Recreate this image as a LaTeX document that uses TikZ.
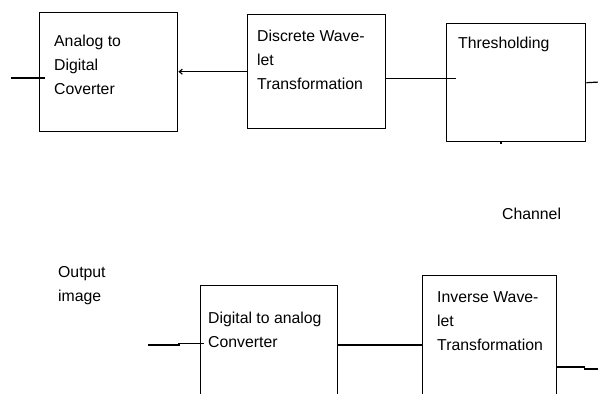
\documentclass[tikz,border=0pt]{standalone}
\usepackage{fontspec}
\setmainfont{Liberation Sans}
\usetikzlibrary{arrows.meta, positioning}

\begin{document}
\begin{tikzpicture}[
    x=1pt, y=-1pt,
    blk/.style={draw, line width=1.4pt, anchor=north west, inner sep=0pt},
    txt/.style={align=left, inner sep=0pt, font=\fontsize{15.8}{24}\selectfont},
    lbl/.style={txt, anchor=north west},
    wire/.style={line width=1.2pt},
    arr/.style={wire, -{Straight Barb[length=3pt, width=5pt]}},
]
\useasboundingbox (0,0) rectangle (598,394);
\clip (0,0) rectangle (598,394);

% upper chain
\node[blk, minimum width=138pt, minimum height=119pt,
  label={[lbl, xshift=15pt, yshift=-23pt]north west:{Analog to\\Digital\\Coverter}}] (adc) at (39,12) {};
\node[blk, minimum width=138pt, minimum height=114pt,
  label={[lbl, xshift=10pt, yshift=-16pt]north west:{Discrete Wave-\\let\\Transformation}}] (dwt) at (247,14) {};
\node[blk, minimum width=139pt, minimum height=118pt,
  label={[lbl, xshift=12pt, yshift=-14pt]north west:{Thresholding}}] (thr) at (446,23) {};

% lower chain
\node[blk, minimum width=137pt, minimum height=150pt,
  label={[lbl, xshift=8pt, yshift=-27pt]north west:{Digital to analog\\Converter}}] (dac) at (200,285) {};
\node[blk, minimum width=134pt, minimum height=150pt,
  label={[lbl, xshift=15pt, yshift=-16pt]north west:{Inverse Wave-\\let\\Transformation}}] (idwt) at (422,275) {};

\node[lbl] (chan) at (502,208) {Channel};
\node[lbl] (outimg) at (58,266) {Output\\image};

% connectors
\coordinate (src) at (11,78);
\draw[wire] (src) -- (adc.west |- src) -- ++(6,0);
\draw[arr] (dwt.west) -- (adc.east |- dwt.west);
\coordinate (dwtout) at ([yshift=-7pt]dwt.east);
\draw[wire] (dwtout) -- (dwtout -| thr.west) -- ++(10,0);
\coordinate (tx) at (600,82);
\draw[wire] (thr.east) -- (tx);
\coordinate (tk) at (501,144);
\draw[wire] (thr.south -| tk) -- (tk);

\coordinate (sink) at (148,345);
\coordinate (kink) at (179,343.5);
\draw[wire] (sink) -- (sink -| kink) -- (kink) -- (kink -| dac.west) -- ++(4,0);
\coordinate (dacout) at ([yshift=-60pt]dac.north east);
\draw[wire] (dacout) -- (dacout -| idwt.west);
\coordinate (iwout) at ([yshift=-92pt]idwt.north east);
\coordinate (rx) at (600,369);
\draw[wire] (iwout) -- ++(27,0) -- ++(0,2) -- (rx);

\end{tikzpicture}
\end{document}
